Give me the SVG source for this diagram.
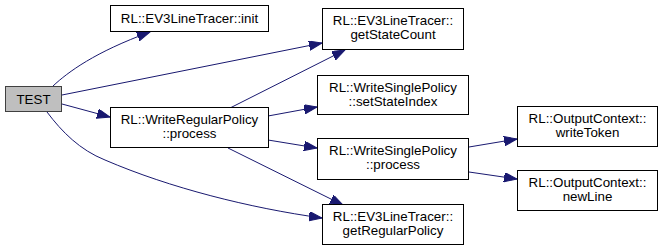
<svg xmlns="http://www.w3.org/2000/svg" width="664" height="251" viewBox="0 0 664 251">
  <style>
    .node rect { fill: #ffffff; stroke: #000000; stroke-width: 1; }
    .node.current rect { fill: #bfbfbf; stroke: #404040; }
    .node text { font-family: "Liberation Sans", Arial, Helvetica, sans-serif; font-size: 13.33px; fill: #000000; text-anchor: middle; }
    .edges path { fill: none; stroke: #191970; stroke-width: 1; marker-end: url(#arrow); }
  </style>
  <defs>
    <marker id="arrow" markerUnits="userSpaceOnUse" markerWidth="14" markerHeight="10" refX="13" refY="4.7" orient="auto">
      <path d="M0,0 L13,4.7 L0,9.4 Z" fill="#191970" stroke="#191970" stroke-width="1"/>
    </marker>
  </defs>
  <rect width="664" height="251" fill="#ffffff"/>

  <g class="edges">
    <path d="M53,86 C68,72 95,52 150,32"/>
    <path d="M62,95 L322,43"/>
    <path d="M62,104 L110,117"/>
    <path d="M47,112 C62,132 80,150 105,160 C170,188 250,208 322,218"/>
    <path d="M230,108 L345,50"/>
    <path d="M268,116 L317,107"/>
    <path d="M268,140 L317,148"/>
    <path d="M228,148 L343,205"/>
    <path d="M469,147 L517,139"/>
    <path d="M469,172 L517,179"/>
  </g>

  <g id="node-test" class="node current">
    <rect x="5.5" y="86.5" width="56" height="25"/>
    <text x="33.5" y="103.5">TEST</text>
  </g>
  <g id="node-init" class="node">
    <rect x="110.5" y="5.5" width="158" height="26"/>
    <text x="189.5" y="23">RL::EV3LineTracer::init</text>
  </g>
  <g id="node-getstatecount" class="node">
    <rect x="322.5" y="8.5" width="141" height="41"/>
    <text x="393" y="25">RL::EV3LineTracer::</text>
    <text x="393" y="39">getStateCount</text>
  </g>
  <g id="node-writeregularpolicy-process" class="node">
    <rect x="110.5" y="107.5" width="158" height="40"/>
    <text x="189.5" y="124">RL::WriteRegularPolicy</text>
    <text x="189.5" y="138">::process</text>
  </g>
  <g id="node-setstateindex" class="node">
    <rect x="317.5" y="75.5" width="151" height="39"/>
    <text x="393" y="92">RL::WriteSinglePolicy</text>
    <text x="393" y="106">::setStateIndex</text>
  </g>
  <g id="node-writesinglepolicy-process" class="node">
    <rect x="317.5" y="138.5" width="151" height="41"/>
    <text x="393" y="155">RL::WriteSinglePolicy</text>
    <text x="393" y="169">::process</text>
  </g>
  <g id="node-getregularpolicy" class="node">
    <rect x="322.5" y="204.5" width="141" height="40"/>
    <text x="393" y="221">RL::EV3LineTracer::</text>
    <text x="393" y="235">getRegularPolicy</text>
  </g>
  <g id="node-writetoken" class="node">
    <rect x="517.5" y="106.5" width="140" height="40"/>
    <text x="587.5" y="123">RL::OutputContext::</text>
    <text x="587.5" y="137">writeToken</text>
  </g>
  <g id="node-newline" class="node">
    <rect x="517.5" y="170.5" width="140" height="40"/>
    <text x="587.5" y="187">RL::OutputContext::</text>
    <text x="587.5" y="201">newLine</text>
  </g>
</svg>
